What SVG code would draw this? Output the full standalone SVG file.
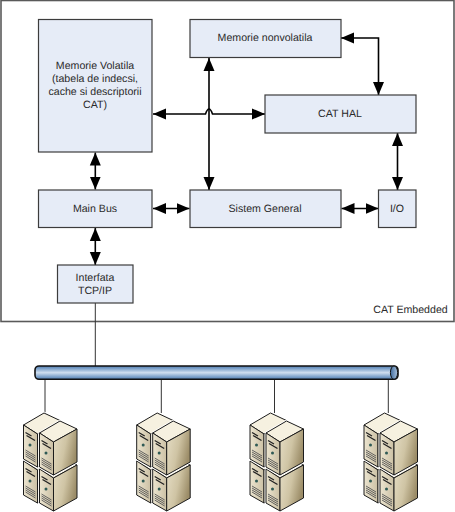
<svg xmlns="http://www.w3.org/2000/svg" xmlns:xlink="http://www.w3.org/1999/xlink" width="455" height="512" viewBox="0 0 455 512">
<style>
text{font-family:"Liberation Sans",Arial,sans-serif;font-size:10.6px;fill:#2a2a2a;text-anchor:middle;text-rendering:geometricPrecision}
.n{fill:#e6ecf7;stroke:#3c3c3c;stroke-width:1.200}
.c{fill:none;stroke:#000;stroke-width:1.600}
.l{fill:none;stroke:#333;stroke-width:1}
.e{stroke:#1c1c1c;stroke-width:1;stroke-linejoin:round}
</style>
<defs>
<marker id="a" markerUnits="userSpaceOnUse" markerWidth="14" markerHeight="12" refX="13" refY="6" orient="auto-start-reverse"><path d="M0 .5L13 6L0 11.500Z" fill="#000"/></marker>
<linearGradient id="bus" x1="0" y1="0" x2="0" y2="1"><stop offset="0" stop-color="#4f7cb0"/><stop offset=".2" stop-color="#7fa3cb"/><stop offset=".5" stop-color="#cfdeef"/><stop offset=".8" stop-color="#7fa3cb"/><stop offset="1" stop-color="#4f7cb0"/></linearGradient>
<linearGradient id="cap" x1="0" y1="0" x2="1" y2="0"><stop offset="0" stop-color="#3f6a9c"/><stop offset="1" stop-color="#a9c2de"/></linearGradient>
<linearGradient id="side" x1="0" y1="0" x2="1" y2=".4"><stop offset="0" stop-color="#e6dec6"/><stop offset=".55" stop-color="#cfc4a4"/><stop offset="1" stop-color="#9c8d68"/></linearGradient>
<linearGradient id="front" x1="0" y1="0" x2="1" y2="0"><stop offset="0" stop-color="#ece5d0"/><stop offset="1" stop-color="#cbc0a4"/></linearGradient>
<g id="unit">
<path fill="none" stroke="#fff" stroke-width="2.600" stroke-linejoin="round" d="M0 12L20.500 0L37.500 8V41L14 54L0 46Z"/>
<path class="e" fill="#f6f1e0" d="M0 12L20.500 0L37.500 8L14 21Z"/>
<path class="e" fill="url(#front)" d="M0 12L14 21V54L0 46Z"/>
<path class="e" fill="url(#side)" d="M14 21L37.500 8V41L14 54Z"/>
<path stroke="#222" stroke-width="1.300" d="M2 19.500L8 23M3 22.500L11.500 27.500"/>
<path stroke="#555" stroke-width=".9" d="M2 37L12 43M2 39L12 45M2 41L12 47M2 43L12 49"/>
<circle cx="6.500" cy="32" r="1.500" fill="#2f5a55"/>
</g>
<g id="rack"><use xlink:href="#unit" x="0" y="36"/><use xlink:href="#unit" x="16" y="44"/><use xlink:href="#unit" x="0" y="0"/><use xlink:href="#unit" x="16" y="8"/></g>
</defs>
<rect x="1" y="0.500" width="453" height="321" fill="#fff" stroke="#5a5a5a" stroke-width="1.600"/>
<text x="410.500" y="313">CAT Embedded</text>
<g id="connectors">
<path class="c" marker-start="url(#a)" marker-end="url(#a)" d="M153 114H205.500Q209 104 212.500 114H265"/>
<path class="c" marker-start="url(#a)" marker-end="url(#a)" d="M209 58V190"/>
<path class="c" marker-start="url(#a)" marker-end="url(#a)" d="M341 38H378.500V95"/>
<path class="c" marker-start="url(#a)" marker-end="url(#a)" d="M397.500 133V190"/>
<path class="c" marker-start="url(#a)" marker-end="url(#a)" d="M95.300 152.500V189.500"/>
<path class="c" marker-start="url(#a)" marker-end="url(#a)" d="M153 208.500H189.500"/>
<path class="c" marker-start="url(#a)" marker-end="url(#a)" d="M341.500 208.500H378.500"/>
<path class="c" marker-start="url(#a)" marker-end="url(#a)" d="M95.300 228V265"/>
<path class="l" d="M95.300 303V366M45 379V413M161.300 379V413M274.500 379V413M388.300 379V413"/>
</g>
<g id="volatile"><rect class="n" x="38.500" y="19.500" width="113.500" height="132.500"/><text x="95" y="68.500">Memorie Volatila</text><text x="95" y="82">(tabela de indecsi,</text><text x="95" y="95">cache si descriptorii</text><text x="95" y="108">CAT)</text></g>
<g id="nonvolatile"><rect class="n" x="190" y="19.500" width="151" height="38"/><text x="265" y="41">Memorie nonvolatila</text></g>
<g id="hal"><rect class="n" x="265" y="95" width="151" height="38"/><text x="340" y="117">CAT HAL</text></g>
<g id="mainbus"><rect class="n" x="38.500" y="190" width="113.500" height="37.500"/><text x="95" y="212">Main Bus</text></g>
<g id="sistem"><rect class="n" x="190" y="190" width="151" height="37.500"/><text x="265" y="212">Sistem General</text></g>
<g id="io"><rect class="n" x="378.500" y="190" width="37.500" height="37.500"/><text x="397" y="211.500">I/O</text></g>
<g id="tcp"><rect class="n" x="57.500" y="265" width="75.500" height="38"/><text x="95" y="281">Interfata</text><text x="95" y="293.500">TCP/IP</text></g>
<g id="bus1"><rect x="35" y="366" width="363" height="13.300" rx="4" fill="url(#bus)" stroke="#111" stroke-width="1.600"/><ellipse cx="394" cy="372.600" rx="3.600" ry="6.600" fill="url(#cap)" stroke="#111" stroke-width="1"/></g>
<g id="s1"><use xlink:href="#rack" x="23.500" y="413"/></g>
<g id="s2"><use xlink:href="#rack" x="136.700" y="413"/></g>
<g id="s3"><use xlink:href="#rack" x="250" y="413"/></g>
<g id="s4"><use xlink:href="#rack" x="364" y="413"/></g>
</svg>
